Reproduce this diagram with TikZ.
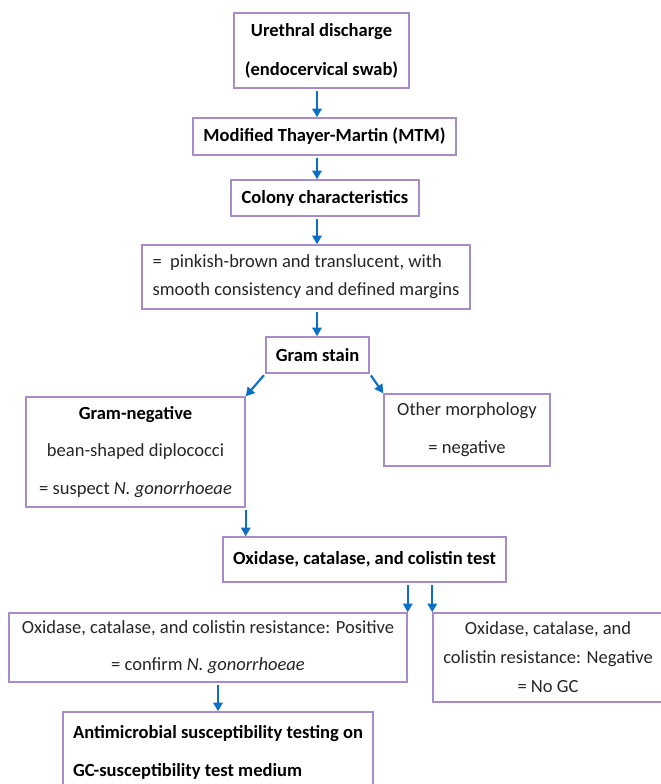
\documentclass[tikz,border=0pt]{standalone}
\usepackage{fontspec}
\setmainfont{Carlito}
\usetikzlibrary{positioning,arrows.meta}
\definecolor{FCpurple}{HTML}{A68CCB}
\definecolor{FCblue}{HTML}{0B6FC6}
\definecolor{FCtext}{HTML}{262626}
\newlength\px
\setlength\px{0.75pt}
\tikzset{
  flowbox/.style={draw=FCpurple, line width=1.1pt, fill=white, align=center, inner sep=0pt, text=FCtext},
  titlebox/.style={flowbox, text=black, font=\fontsize{13.9pt}{17pt}\selectfont\bfseries},
  linegap/.style={font=\fontsize{13.9pt}{#1\px}\selectfont},
  flowarr/.style={-{Triangle[length=6.5pt, width=7pt]}, line width=1.6pt, draw=FCblue, shorten <=2\px}
}

\begin{document}
\begin{tikzpicture}[x=0.75pt, y=-0.75pt, font=\fontsize{13.9pt}{17pt}\selectfont]
\useasboundingbox (0,0) rectangle (660,784);
\coordinate (spine) at (317,0);
% main column
\node[titlebox, linegap=39, minimum width=175\px, minimum height=75\px] (ureth) at (321.5,50.5) {\textbf{Urethral discharge}\\\textbf{(endocervical swab)}};
\node[titlebox, minimum width=263\px, minimum height=37\px] (mtm) at (324.5,136.5) {Modified Thayer-Martin (MTM)};
\node[titlebox, minimum width=188\px, minimum height=36\px] (colony) at (325,198) {Colony characteristics};
\node[flowbox, align=left, linegap=28, minimum width=328\px, minimum height=64\px] (looks) at (306,277) {=\ \ pinkish-brown and translucent, with\\smooth consistency and defined margins};
\node[titlebox, minimum width=103\px, minimum height=36\px] (gram) at (317.5,355) {Gram stain};
% gram stain outcomes
\node[flowbox, linegap=37.5, minimum width=219\px, minimum height=110\px] (gneg) at (135.5,452) {{\color{black}\textbf{Gram-negative}}\\bean-shaped diplococci\\= suspect \textit{N. gonorrhoeae}};
\node[flowbox, linegap=38, minimum width=166\px, minimum height=72\px] (other) at (467,430) {Other morphology\\= negative};
\node[titlebox, minimum width=283\px, minimum height=45\px] (oxtest) at (364.5,559.5) {Oxidase, catalase, and colistin test};
% test outcomes
\node[flowbox, linegap=37, minimum width=398\px, minimum height=69\px] (pos) at (208,647.5) {Oxidase, catalase, and colistin resistance: Positive\\= confirm \textit{N. gonorrhoeae}};
\node[flowbox, linegap=29, minimum width=230\px, minimum height=89\px] (neg) at (548,657.5) {Oxidase, catalase, and\\colistin resistance: Negative\\= No GC};
\node[flowbox, text=black, align=left, linegap=38, minimum width=310\px, minimum height=80\px] (ast) at (218,752) {\textbf{Antimicrobial susceptibility testing on}\\\textbf{GC-susceptibility test medium}};

\draw[flowarr] (ureth.south -| spine) -- (mtm.north -| spine);
\draw[flowarr] (mtm.south -| spine) -- (colony.north -| spine);
\draw[flowarr] (colony.south -| spine) -- (looks.north -| spine);
\draw[flowarr] (looks.south -| spine) -- (gram.north -| spine);
\draw[flowarr] (gram.south west) -- (gneg.north east);
\draw[flowarr] (gram.south east) -- (other.north west);
\draw[flowarr] (gneg.south east) -- (gneg.south east |- oxtest.north);
\draw[flowarr] (pos.north east |- oxtest.south) -- (pos.north east);
\draw[flowarr] (neg.north west |- oxtest.south) -- (neg.north west);
\draw[flowarr] (ast.north |- pos.south) -- (ast.north);
\end{tikzpicture}
\end{document}
